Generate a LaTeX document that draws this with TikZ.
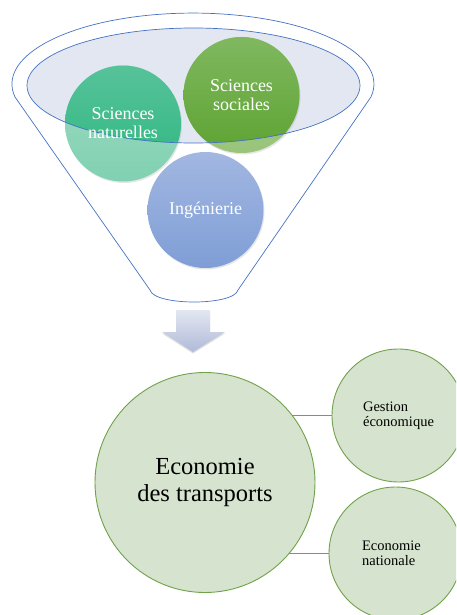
\documentclass[tikz,border=0pt]{standalone}
\usepackage{fontspec}
\setmainfont{Liberation Serif}
\usetikzlibrary{shadows, backgrounds}
\usepackage{xcolor}

\definecolor{funnelblue}{HTML}{4472C4}
\definecolor{rimfill}{HTML}{E3E7F1}
\definecolor{ecoline}{HTML}{6FA24A}
\definecolor{ecofill}{HTML}{D6E4CF}
% light and deep tones of the three disciplines
\definecolor{natlighttop}{HTML}{A0DAC4}
\definecolor{natlightbot}{HTML}{80D1B1}
\definecolor{natdeeptop}{HTML}{57C29A}
\definecolor{natdeepbot}{HTML}{2CB77F}
\definecolor{soclighttop}{HTML}{A6CC8C}
\definecolor{soclightbot}{HTML}{99C47A}
\definecolor{socdeeptop}{HTML}{80B860}
\definecolor{socdeepbot}{HTML}{5EA332}
\definecolor{ingtop}{HTML}{A2B7E1}
\definecolor{ingbot}{HTML}{7F9ED6}
\definecolor{arrowtop}{HTML}{E3E7F2}
\definecolor{arrowbot}{HTML}{B0BAD8}

\begin{document}
\begin{tikzpicture}[x=1pt, y=1pt,
    discipline/.style={circle, minimum size=116pt, inner sep=0pt,
        drop shadow={opacity=0.2, shadow xshift=1pt, shadow yshift=-1.5pt}},
    disclabel/.style={text=white, align=center, font=\fontsize{18}{19}\selectfont},
    branch/.style={circle, draw=ecoline, fill=ecofill, line width=0.9pt, inner sep=0pt},
    smalltext/.style={align=left, font=\fontsize{14.5}{15.5}\selectfont}]
    \useasboundingbox (0,0) rectangle (456,-615);
    \clip (0,0) rectangle (456,-615);

    % Funnel
    \draw[funnelblue, line width=0.7pt] (15,-97) arc[start angle=190.5, end angle=-10.5, x radius=181, y radius=71]
        -- (238,-290) .. controls (234,-306) and (154,-306) .. (150,-290) -- cycle;
    \fill[rimfill] (193.5,-85.5) ellipse (166.5 and 57.5);

    % Disciplines
    \node[discipline, top color=natlighttop, bottom color=natlightbot] (nat) at (123,-123.5) {};
    \node[discipline, top color=soclighttop, bottom color=soclightbot] (soc) at (241.5,-95) {};
    \node[discipline, top color=ingtop, bottom color=ingbot] (ing) at (205.5,-210) {};
    \begin{scope}
        \clip (193.5,-85.5) ellipse (166.5 and 57.5);
        \shade[top color=natdeeptop, bottom color=natdeepbot] (nat) circle[radius=58];
        \shade[top color=socdeeptop, bottom color=socdeepbot] (soc) circle[radius=58];
    \end{scope}
    \draw[funnelblue, line width=0.7pt] (193.5,-85.5) ellipse (166.5 and 57.5);

    \node[disclabel] (natlabel) at (nat) {Sciences\\naturelles};
    \node[disclabel] (soclabel) at (soc) {Sciences\\sociales};
    \node[disclabel] (inglabel) at (ing) {Ingénierie};

    % Arrow
    \shade[top color=arrowtop, bottom color=arrowbot,
        drop shadow={opacity=0.25, shadow xshift=0pt, shadow yshift=-1.5pt}]
        (176,-310) -- (210,-310) -- (210,-332) -- (225,-332) -- (193,-352) -- (162,-332) -- (176,-332) -- cycle;

    % Transport economics
    \node[branch, minimum size=220pt, align=center, font=\fontsize{24.5}{27}\selectfont] (eco) at (205,-482.5) {Economie\\des transports};
    \node[branch, minimum size=133pt] (ges) at (398.5,-415.5) {};
    \node[branch, minimum size=133pt] (nat2) at (395.5,-553.5) {};
    \node[smalltext] (geslabel) at (ges) {Gestion\\économique};
    \node[smalltext] (nat2label) at ([xshift=-4pt]nat2.center) {Economie\\nationale};

    % Connections
    \begin{scope}[on background layer]
        \draw[ecoline, line width=0.9pt] (ges.west) -- (eco.center |- ges.west);
        \draw[ecoline, line width=0.9pt] (nat2.west) -- (eco.center |- nat2.west);
    \end{scope}
\end{tikzpicture}
\end{document}
